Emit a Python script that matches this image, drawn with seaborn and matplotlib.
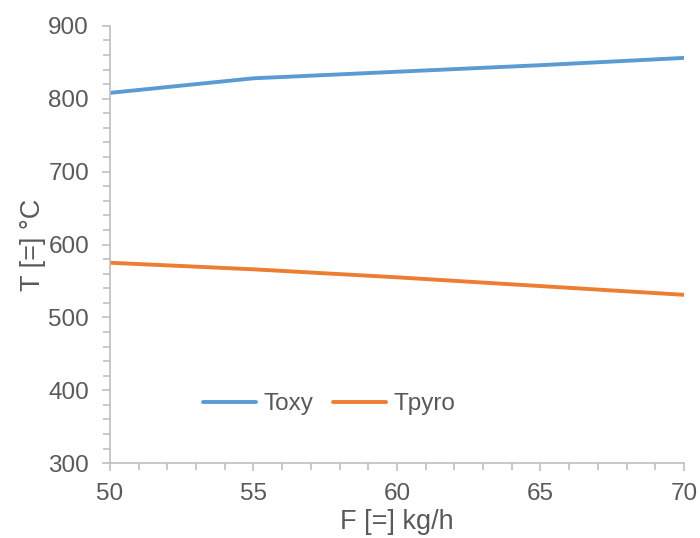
import matplotlib
matplotlib.use("Agg")
import matplotlib.pyplot as plt
from matplotlib.ticker import MultipleLocator
import pandas as pd
import seaborn as sns

sns.set_style("white")
plt.rcParams['font.family'] = ['Liberation Sans', 'DejaVu Sans']

# datos
F = [50, 55, 60, 65, 70]
Toxy = [808, 828, 837, 846, 856]
Tpyro = [575, 566, 555, 543, 531]

df = pd.DataFrame({
    "F": F * 2,
    "T": Toxy + Tpyro,
    "serie": ["Toxy"] * len(F) + ["Tpyro"] * len(F),
})

gris = "#595959"
colores = {"Toxy": "#5B9BD5", "Tpyro": "#ED7D31"}

fig = plt.figure(figsize=(7, 5.38), dpi=100)
ax = fig.add_axes([0.157, 0.139, 0.82, 0.813])

sns.lineplot(data=df, x="F", y="T", hue="serie", palette=colores,
             linewidth=2.8, ax=ax)

ax.set_xlim(50, 70)
ax.set_ylim(300, 900)
ax.xaxis.set_major_locator(MultipleLocator(5))
ax.xaxis.set_minor_locator(MultipleLocator(1))
ax.yaxis.set_major_locator(MultipleLocator(100))
ax.yaxis.set_minor_locator(MultipleLocator(20))

for lado in ["top", "right"]:
    ax.spines[lado].set_visible(False)
for lado in ["left", "bottom"]:
    ax.spines[lado].set_color("#BFBFBF")
    ax.spines[lado].set_linewidth(1.2)

ax.tick_params(which="both", direction="out", color="#BFBFBF", width=1.2,
               labelcolor=gris, labelsize=17.5)
ax.tick_params(which="major", length=6)
ax.tick_params(which="minor", length=5)
ax.tick_params(axis="y", which="major", pad=9)
ax.tick_params(axis="x", which="major", pad=8)
ax.tick_params(axis="x", which="both", bottom=True)
ax.tick_params(axis="y", which="both", left=True)

ax.set_xlabel("F [=] kg/h", color=gris, fontsize=19.5, labelpad=3)
ax.set_ylabel("T [=] °C", color=gris, fontsize=19.5, labelpad=2)

ax.legend(loc="center", bbox_to_anchor=(0.382, 0.135), ncol=2, frameon=False,
          fontsize=17.5, labelcolor=gris, handlelength=2.2, handletextpad=0.3,
          columnspacing=0.8)

plt.savefig("out.png", dpi=100)
